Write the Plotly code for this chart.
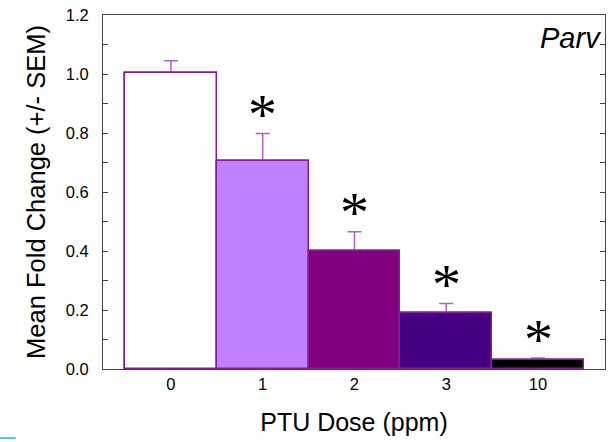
import plotly.graph_objects as go

doses = ["0", "1", "2", "3", "10"]
means = [1.005, 0.705, 0.40, 0.19, 0.03]
sems = [0.04, 0.093, 0.065, 0.032, 0.007]
colors = ["#FFFFFF", "#C080FF", "#800080", "#440080", "#000000"]
sig = [False, True, True, True, True]
y_ticks = [0.0, 0.2, 0.4, 0.6, 0.8, 1.0, 1.2]

xpos = list(range(len(doses)))

fig = go.Figure()
# error bars (plus direction only) drawn first, bars drawn on top
fig.add_trace(go.Bar(
    x=xpos, y=means,
    marker=dict(color=colors, line=dict(color="#8B1A99", width=1.5)),
    error_y=dict(type="data", array=sems, arrayminus=[0] * len(sems), symmetric=False,
                 color="#B060C8", thickness=1.5, width=7),
    width=1.0, showlegend=False, hoverinfo="skip",
))
fig.add_trace(go.Bar(
    x=xpos, y=means,
    marker=dict(color=colors, line=dict(color="#8B1A99", width=1.5)),
    width=1.0, showlegend=False, hoverinfo="skip",
))

for i, s in enumerate(sig):
    if s:
        fig.add_annotation(x=xpos[i], y=means[i] + sems[i], yshift=19, text="*",
                           showarrow=False, font=dict(size=58, color="black", family="Liberation Serif"),
                           xanchor="center", yanchor="middle")

fig.add_annotation(x=1, y=1, xref="paper", yref="paper", xshift=-2, yshift=-5,
                   text="<i>Parv</i>", showarrow=False, xanchor="right", yanchor="top",
                   font=dict(size=29, color="black", family="Liberation Sans"))

fig.add_shape(type="line", xref="paper", yref="paper", x0=-0.213, x1=-0.174, y0=-0.195, y1=-0.195,
              line=dict(color="#5BC0DE", width=2))

fig.update_layout(
    width=611, height=442,
    margin=dict(l=103, r=6, t=15, b=73),
    paper_bgcolor="white", plot_bgcolor="white",
    font=dict(family="Liberation Sans, Arial", size=16.5, color="black"),
    bargap=0, barmode="overlay",
)
fig.update_xaxes(
    range=[-0.74, 4.73], tickmode="array", tickvals=xpos, ticktext=doses,
    showline=True, linecolor="#444", linewidth=1, mirror=True, ticks="", showgrid=False,
    zeroline=False, automargin=False,
    title=dict(text="PTU Dose (ppm)", font=dict(size=25), standoff=21),
)
fig.update_yaxes(
    range=[0, 1.2], tickmode="array", tickvals=y_ticks, ticktext=[f"{v:.1f}" for v in y_ticks],
    showline=True, linecolor="#444", linewidth=1, mirror="ticks", ticks="inside", ticklen=5,
    tickcolor="#444", showgrid=False, zeroline=False, automargin=False, ticklabelstandoff=10,
    minor=dict(tickvals=[0.1, 0.3, 0.5, 0.7, 0.9, 1.1], ticks="inside", ticklen=5, tickcolor="#444"),
    title=dict(text="Mean Fold Change (+/- SEM)", font=dict(size=25.5), standoff=12),
)

fig.write_html("out.html", config={"displayModeBar": False},
               post_script="document.body.style.margin='0';document.body.style.overflow='hidden';")
